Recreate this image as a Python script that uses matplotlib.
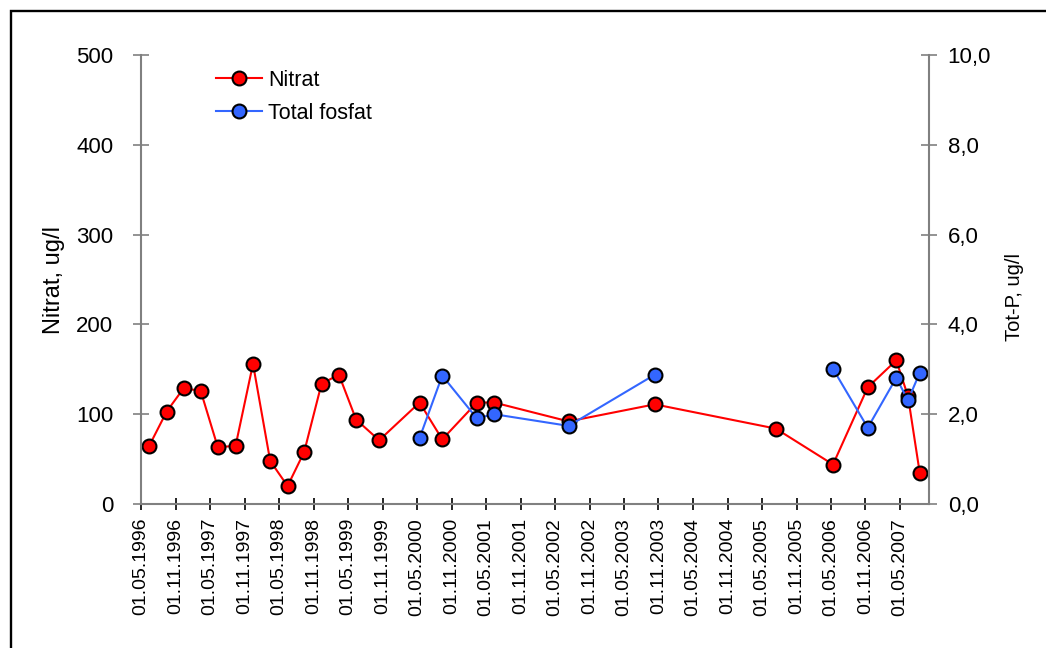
import numpy as np
import pandas as pd
import matplotlib
matplotlib.use("Agg")
import matplotlib.pyplot as plt
import matplotlib.dates as mdates
from matplotlib.patches import Rectangle

plt.rcParams['font.family'] = ['Liberation Sans', 'DejaVu Sans']

# sampling dates and values
dates = ['1996-06-14', '1996-09-14', '1996-12-13', '1997-03-13', '1997-06-12',
         '1997-09-14', '1997-12-15', '1998-03-16', '1998-06-16', '1998-09-12',
         '1998-12-13', '1999-03-15', '1999-06-14', '1999-10-14', '2000-05-15',
         '2000-09-12', '2001-03-14', '2001-06-14', '2002-07-13', '2003-10-12',
         '2005-07-14', '2006-05-13', '2006-11-13', '2007-04-13', '2007-06-14',
         '2007-08-15']
nitrat = [65, 103, 129, 126, 63, 65, 156, 48, 20, 58, 134, 144, 94, 71, 113,
          72, 113, 113, 92, 111, 84, 44, 130, 160, 120, 35]
tot_p = [np.nan] * 14 + [1.47, 2.86, 1.91, 2.00, 1.74, 2.88, np.nan,
                         3.01, 1.70, 2.81, 2.31, 2.92]

x = pd.to_datetime(dates)

fig = plt.figure(figsize=(10.46, 6.48), dpi=100)
ax = fig.add_axes([0.1348, 0.2222, 0.7533, 0.6929])
ax2 = ax.twinx()

red = '#FF0000'
blue = '#3366FF'
l1, = ax.plot(x, nitrat, color=red, lw=1.5, marker='o', ms=10,
              mfc=red, mec='black', mew=1.5, label='Nitrat')
l2, = ax2.plot(x, tot_p, color=blue, lw=1.5, marker='o', ms=10,
               mfc=blue, mec='black', mew=1.5, label='Total fosfat')

ax.set_ylim(0, 500)
ax.set_yticks([0, 100, 200, 300, 400, 500])
ax2.set_ylim(0, 10)
ax2.set_yticks([0, 2, 4, 6, 8, 10])
ax2.set_yticklabels(['0,0', '2,0', '4,0', '6,0', '8,0', '10,0'])

ax.set_xlim(pd.Timestamp('1996-05-01'), pd.Timestamp('2007-10-03'))
ax.xaxis.set_major_locator(mdates.MonthLocator(bymonth=(5, 11), bymonthday=1))
ax.xaxis.set_major_formatter(mdates.DateFormatter('%d.%m.%Y'))

grey = '#808080'
for a in (ax, ax2):
    for s in a.spines.values():
        s.set_visible(False)
ax.spines['left'].set_visible(True)
ax.spines['bottom'].set_visible(True)
ax2.spines['right'].set_visible(True)
for s in (ax.spines['left'], ax.spines['bottom'], ax2.spines['right']):
    s.set_color(grey)
    s.set_linewidth(1.5)

ax.tick_params(axis='y', direction='inout', length=11, width=1.2, color=grey,
               labelsize=16, pad=14.5)
ax2.tick_params(axis='y', direction='inout', length=11, width=1.2, color=grey,
                labelsize=16, pad=8)
ax.tick_params(axis='x', direction='inout', length=8, width=1.2, color='black',
               labelsize=14, pad=6)
plt.setp(ax.get_xticklabels(), rotation=90, ha='center', va='top')

ax.set_ylabel('Nitrat, ug/l', fontsize=17)
ax.yaxis.set_label_coords(-0.0964, 0.5)
ax2.set_ylabel('Tot-P, ug/l', fontsize=14.5)
ax2.yaxis.set_label_coords(1.0964, 0.46)

ax2.legend([l1, l2], ['Nitrat', 'Total fosfat'], loc='upper left',
           bbox_to_anchor=(0.071, 1.01), frameon=False, fontsize=15.5,
           handlelength=2.1, handletextpad=0.3, labelspacing=0.55)

# outer frame of the chart area
fig.patches.append(Rectangle((10.5 / 1046, -0.05), 1.1, 1.05 - 11.5 / 648,
                             transform=fig.transFigure, fill=False,
                             ec='black', lw=1.7))

fig.savefig('out.png', dpi=100)
